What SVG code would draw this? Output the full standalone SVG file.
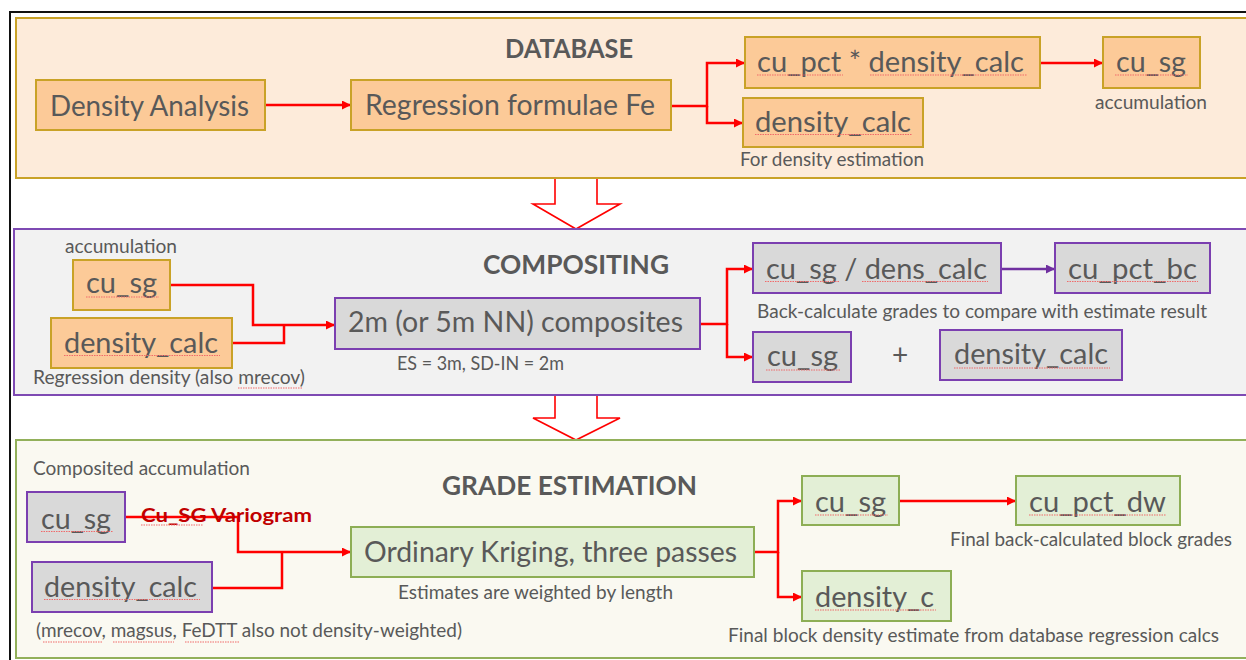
<svg xmlns="http://www.w3.org/2000/svg" width="1246" height="660" viewBox="0 0 1246 660">
<defs>
<style>
.t{font-family:Lato,"Liberation Sans",sans-serif;fill:#595959}
.bx{font-size:28px}
.cap{font-size:18.5px}
.ttl{font-size:26px;font-weight:bold}
.var{font-family:Lato,"Liberation Sans",sans-serif;font-size:19px;font-weight:bold;fill:#C00000}
.or{fill:#FCCA98;stroke:#C9A227;stroke-width:2}
.gr{fill:#D9D9D9;stroke:#7B3FB0;stroke-width:2}
.gn{fill:#E3EFD6;stroke:#8DAE55;stroke-width:2}
.c{fill:none;stroke:#FF0000;stroke-width:2.5}
.cp{fill:none;stroke:#7030A0;stroke-width:2.5}
.sq{stroke:#F06A6A;stroke-width:1.2;stroke-dasharray:1.5 1}
.blk{fill:#FFFFFF;stroke:#FF0000;stroke-width:1.6}
</style>
<marker id="ah" markerUnits="userSpaceOnUse" markerWidth="10" markerHeight="10" refX="9" refY="4.5" orient="auto"><path d="M0,0 L9,4.5 L0,9 z" fill="#FF0000"/></marker>
<marker id="ahp" markerUnits="userSpaceOnUse" markerWidth="10" markerHeight="10" refX="9" refY="4.5" orient="auto"><path d="M0,0 L9,4.5 L0,9 z" fill="#7030A0"/></marker>
</defs>
<rect x="0" y="0" width="1246" height="660" fill="#FFFFFF"/>
<rect x="10" y="12" width="1250" height="660" fill="#FFFFFF" stroke="#111111" stroke-width="2"/>

<g id="block-arrows">
<polygon class="blk" points="555,178 597,178 597,204 620,204 576,229 533,204 555,204"/>
<polygon class="blk" points="555,395 597,395 597,418 620,418 576,440 533,418 555,418"/>
</g>

<g id="panel-database">
<rect x="16" y="18" width="1240" height="160" fill="#FDEBDA" stroke="#C9A227" stroke-width="2"/>
<text class="t ttl" x="505" y="58" textLength="128" lengthAdjust="spacingAndGlyphs">DATABASE</text>
</g>
<g id="panel-compositing">
<rect x="14" y="229" width="1240" height="166" fill="#F2F2F2" stroke="#7E4AB3" stroke-width="2"/>
<text class="t ttl" x="483" y="274" textLength="186" lengthAdjust="spacingAndGlyphs">COMPOSITING</text>
</g>
<g id="panel-grade">
<rect x="16" y="440" width="1240" height="218" fill="#FAF9F1" stroke="#92B05A" stroke-width="2"/>
<text class="t ttl" x="442" y="495" textLength="255" lengthAdjust="spacingAndGlyphs">GRADE ESTIMATION</text>
</g>

<g id="connectors">
<path class="c" d="M265,105 H351" marker-end="url(#ah)"/>
<path class="c" d="M671,106 H707 V63 H745" marker-end="url(#ah)"/>
<path class="c" d="M707,106 V123 H743" marker-end="url(#ah)"/>
<path class="c" d="M1040,63 H1103" marker-end="url(#ah)"/>
<path class="c" d="M170,285 H253 V325 H335" marker-end="url(#ah)"/>
<path class="c" d="M232,343 H284 V325"/>
<path class="c" d="M700,324 H727 V269 H753" marker-end="url(#ah)"/>
<path class="c" d="M727,324 V357 H753" marker-end="url(#ah)"/>
<path class="cp" d="M1001,269 H1055" marker-end="url(#ahp)"/>
<path class="c" d="M125,517 H238 V552 H351" marker-end="url(#ah)"/>
<path class="c" d="M212,588 H282 V552"/>
<path class="c" d="M754,552 H778 V501 H802" marker-end="url(#ah)"/>
<path class="c" d="M778,552 V597 H802" marker-end="url(#ah)"/>
<path class="c" d="M899,501 H1016" marker-end="url(#ah)"/>
</g>

<g id="n-density-analysis">
<rect class="or" x="36" y="80" width="229" height="50"/>
<text class="t bx" x="50" y="116" textLength="199" lengthAdjust="spacingAndGlyphs">Density Analysis</text>
</g>
<g id="n-regression">
<rect class="or" x="351" y="80" width="320" height="50"/>
<text class="t bx" x="365" y="115" textLength="290" lengthAdjust="spacingAndGlyphs">Regression formulae Fe</text>
</g>
<g id="n-cupct-density">
<rect class="or" x="745" y="37" width="295" height="51"/>
<text class="t bx" x="757" y="72" textLength="267" lengthAdjust="spacingAndGlyphs">cu_pct * density_calc</text>
<line class="sq" x1="757" y1="75" x2="843" y2="75"/>
<line class="sq" x1="870" y1="75" x2="1027" y2="75"/>
</g>
<g id="n-density-calc-db">
<rect class="or" x="743" y="98" width="180" height="49"/>
<text class="t bx" x="755" y="132" textLength="156" lengthAdjust="spacingAndGlyphs">density_calc</text>
<line class="sq" x1="755" y1="134.5" x2="912" y2="134.5"/>
<text class="t cap" x="740" y="166" textLength="184" lengthAdjust="spacingAndGlyphs">For density estimation</text>
</g>
<g id="n-cusg-db">
<rect class="or" x="1103" y="37" width="97" height="51"/>
<text class="t bx" x="1116" y="72" textLength="70" lengthAdjust="spacingAndGlyphs">cu_sg</text>
<line class="sq" x1="1115" y1="75" x2="1188" y2="75"/>
<text class="t cap" x="1095" y="109" textLength="112" lengthAdjust="spacingAndGlyphs">accumulation</text>
</g>

<g id="n-cusg-comp-in">
<text class="t cap" x="65" y="253" textLength="112" lengthAdjust="spacingAndGlyphs">accumulation</text>
<rect class="or" x="73" y="260" width="97" height="50"/>
<text class="t bx" x="86" y="293" textLength="71" lengthAdjust="spacingAndGlyphs">cu_sg</text>
<line class="sq" x1="86" y1="297" x2="159" y2="297"/>
</g>
<g id="n-density-comp-in">
<rect class="or" x="51" y="318" width="181" height="50"/>
<text class="t bx" x="64" y="353" textLength="154" lengthAdjust="spacingAndGlyphs">density_calc</text>
<line class="sq" x1="64" y1="355.5" x2="220" y2="355.5"/>
<text class="t cap" x="33" y="384" textLength="272" lengthAdjust="spacingAndGlyphs">Regression density (also mrecov)</text>
<line class="sq" x1="238" y1="388" x2="303" y2="388"/>
</g>
<g id="n-composites">
<rect class="gr" x="335" y="298" width="365" height="51"/>
<text class="t bx" x="348" y="332" textLength="335" lengthAdjust="spacingAndGlyphs">2m (or 5m NN) composites</text>
<text class="t cap" x="397" y="370" textLength="167" lengthAdjust="spacingAndGlyphs">ES = 3m, SD-IN = 2m</text>
</g>
<g id="n-cusg-dens">
<rect class="gr" x="753" y="243" width="248" height="50"/>
<text class="t bx" x="766" y="279" textLength="221" lengthAdjust="spacingAndGlyphs">cu_sg / dens_calc</text>
<line class="sq" x1="765" y1="281.5" x2="839" y2="281.5"/>
<line class="sq" x1="862" y1="281.5" x2="988" y2="281.5"/>
<text class="t cap" x="757" y="318" textLength="450" lengthAdjust="spacingAndGlyphs">Back-calculate grades to compare with estimate result</text>
</g>
<g id="n-cu-pct-bc">
<rect class="gr" x="1055" y="243" width="155" height="50"/>
<text class="t bx" x="1068" y="279" textLength="129" lengthAdjust="spacingAndGlyphs">cu_pct_bc</text>
<line class="sq" x1="1067" y1="281.5" x2="1198" y2="281.5"/>
</g>
<g id="n-cusg-comp-out">
<rect class="gr" x="753" y="332" width="98" height="50"/>
<text class="t bx" x="767" y="366" textLength="71" lengthAdjust="spacingAndGlyphs">cu_sg</text>
<line class="sq" x1="766" y1="370" x2="840" y2="370"/>
</g>
<g id="n-plus">
<text class="t bx" x="900" y="365" text-anchor="middle">+</text>
</g>
<g id="n-density-comp-out">
<rect class="gr" x="940" y="330" width="182" height="50"/>
<text class="t bx" x="954" y="364" textLength="154" lengthAdjust="spacingAndGlyphs">density_calc</text>
<line class="sq" x1="954" y1="368" x2="1110" y2="368"/>
</g>

<g id="n-cusg-grade-in">
<text class="t cap" x="33" y="475" textLength="217" lengthAdjust="spacingAndGlyphs">Composited accumulation</text>
<rect class="gr" x="27" y="492" width="98" height="50"/>
<text class="t bx" x="41" y="529" textLength="70" lengthAdjust="spacingAndGlyphs">cu_sg</text>
<line class="sq" x1="41" y1="531.5" x2="113" y2="531.5"/>
</g>
<g id="n-density-grade-in">
<rect class="gr" x="32" y="562" width="180" height="50"/>
<text class="t bx" x="44" y="597" textLength="153" lengthAdjust="spacingAndGlyphs">density_calc</text>
<line class="sq" x1="44" y1="599.5" x2="200" y2="599.5"/>
<text class="t cap" x="36" y="637" textLength="426" lengthAdjust="spacingAndGlyphs">(mrecov, magsus, FeDTT also not density-weighted)</text>
<line class="sq" x1="43" y1="642" x2="103" y2="642"/>
<line class="sq" x1="113" y1="642" x2="174" y2="642"/>
<line class="sq" x1="185" y1="642" x2="239" y2="642"/>
</g>
<g id="label-variogram">
<text class="var" x="141" y="522" textLength="171" lengthAdjust="spacingAndGlyphs">Cu_SG Variogram</text>
<line class="sq" x1="141" y1="525" x2="203" y2="525"/>
</g>
<g id="n-kriging">
<rect class="gn" x="351" y="527" width="403" height="50"/>
<text class="t bx" x="364" y="562" textLength="373" lengthAdjust="spacingAndGlyphs">Ordinary Kriging, three passes</text>
<text class="t cap" x="398" y="599" textLength="275" lengthAdjust="spacingAndGlyphs">Estimates are weighted by length</text>
</g>
<g id="n-cusg-grade-out">
<rect class="gn" x="802" y="476" width="97" height="49"/>
<text class="t bx" x="815" y="512" textLength="71" lengthAdjust="spacingAndGlyphs">cu_sg</text>
<line class="sq" x1="815" y1="515" x2="888" y2="515"/>
</g>
<g id="n-cu-pct-dw">
<rect class="gn" x="1016" y="476" width="164" height="49"/>
<text class="t bx" x="1029" y="512" textLength="137" lengthAdjust="spacingAndGlyphs">cu_pct_dw</text>
<line class="sq" x1="1029" y1="515" x2="1166" y2="515"/>
<text class="t cap" x="950" y="546" textLength="282" lengthAdjust="spacingAndGlyphs">Final back-calculated block grades</text>
</g>
<g id="n-density-c">
<rect class="gn" x="802" y="571" width="149" height="50"/>
<text class="t bx" x="815" y="607" textLength="119" lengthAdjust="spacingAndGlyphs">density_c</text>
<line class="sq" x1="815" y1="610" x2="936" y2="610"/>
<text class="t cap" x="728" y="642" textLength="491" lengthAdjust="spacingAndGlyphs">Final block density estimate from database regression calcs</text>
</g>
</svg>
